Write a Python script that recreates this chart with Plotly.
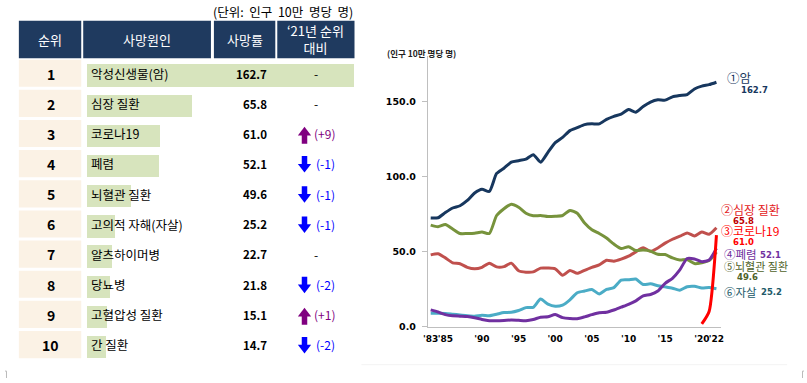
import plotly.graph_objects as go

W, H = 807, 383

# ---------------- table data ----------------
ranks = list(range(1, 11))
causes = ["악성신생물(암)", "심장 질환", "코로나19", "폐렴", "뇌혈관 질환",
          "고의적 자해(자살)", "알츠하이머병", "당뇨병", "고혈압성 질환", "간 질환"]
rates = [162.7, 65.8, 61.0, 52.1, 49.6, 25.2, 22.7, 21.8, 15.1, 14.7]
rank_change = [0, 0, 9, -1, -1, -1, 0, -2, 1, -2]
# bar lengths as drawn in the reference table (rate units)
bar_drawn = [162.7, 64.1, 44.2, 43.6, 26.6, 16.9, 15.1, 13.9, 12.1, 11.5]
header = ["순위", "사망원인", "사망률", "‘21년 순위<br>대비"]
table_unit = "(단위:  인구  10만  명당  명)"

# ---------------- line chart data ----------------
years = list(range(1983, 2023))
cancer = [72.3, 72.5, 76.0, 79.0, 80.5, 84.0, 89.0, 91.5, 90.0, 102.0,
          105.5, 109.5, 110.5, 111.5, 114.5, 109.5, 116.0, 122.5, 126.0, 130.5,
          132.5, 134.5, 135.0, 135.0, 138.0, 140.0, 141.5, 144.5, 142.8, 146.5,
          149.5, 151.0, 150.8, 153.0, 153.9, 154.5, 158.2, 160.1, 161.1, 162.7]
heart = [47.8, 48.5, 45.8, 42.5, 41.9, 39.5, 38.5, 39.5, 42.3, 39.8,
         40.0, 42.3, 37.2, 36.3, 36.5, 39.0, 39.0, 38.5, 34.2, 37.4,
         35.5, 37.5, 39.5, 41.1, 44.2, 43.6, 45.0, 46.9, 49.8, 52.5,
         50.2, 52.4, 55.6, 58.2, 60.2, 62.4, 60.4, 63.0, 61.5, 65.8]
cerebro = [67.6, 66.5, 68.0, 65.0, 62.0, 62.0, 62.2, 63.0, 62.0, 74.0,
           78.5, 81.5, 79.5, 75.5, 73.8, 74.0, 73.3, 73.5, 74.0, 77.4,
           75.5, 69.0, 64.5, 62.0, 59.0, 55.0, 52.0, 53.2, 50.7, 51.1,
           50.3, 48.2, 48.0, 45.8, 44.4, 44.7, 42.0, 42.6, 44.0, 49.6]
suicide = [9.0, 9.0, 8.8, 8.3, 7.8, 7.3, 7.0, 7.6, 7.3, 8.3,
           9.4, 9.6, 10.8, 12.7, 12.9, 18.4, 15.0, 13.6, 14.4, 17.9,
           22.6, 23.7, 24.7, 21.8, 24.8, 26.0, 31.0, 31.2, 31.7, 28.1,
           28.5, 27.3, 26.5, 25.6, 24.3, 26.6, 26.9, 25.7, 26.0, 25.2]
pneumonia = [11.2, 9.8, 8.0, 7.2, 7.0, 6.8, 6.0, 4.8, 4.0, 3.9,
             4.1, 4.4, 4.2, 4.0, 4.8, 6.3, 6.6, 8.1, 6.0, 5.4,
             5.3, 6.5, 8.0, 9.3, 9.6, 11.1, 13.0, 14.9, 17.2, 20.5,
             21.4, 23.7, 28.9, 32.2, 37.8, 45.4, 45.1, 43.3, 44.4, 52.1]
covid_years = [2020, 2021, 2022]
covid = [1.8, 10.1, 61.0]

xtick_vals = [1983, 1985, 1990, 1995, 2000, 2005, 2010, 2015, 2020, 2022]
xtick_text = ["'83", "'85", "'90", "'95", "'00", "'05", "'10", "'15", "'20", "'22"]
ytick_vals = [0, 50, 100, 150]
ytick_text = ["0.0", "50.0", "100.0", "150.0"]
y_title = "(인구 10만 명당 명)"

series = [
    ("heart", years, heart, "#C0504D"),
    ("cerebro", years, cerebro, "#77933C"),
    ("suicide", years, suicide, "#4BACC6"),
    ("pneumonia", years, pneumonia, "#7030A0"),
    ("cancer", years, cancer, "#17375E"),
    ("covid", covid_years, covid, "#FF0000"),
]

KR = "Noto Sans CJK KR"
DV = "DejaVu Sans"
UP_COL, DOWN_COL = "#800080", "#0000FF"


def px(x):
    return x / W


def py(y):
    return 1 - y / H


fig = go.Figure()

# line chart
for name, xs, ys, col in series:
    fig.add_trace(go.Scatter(x=xs, y=ys, mode="lines", name=name,
                             line=dict(color=col, width=3, shape="spline", smoothing=0.6),
                             xaxis="x", yaxis="y", hoverinfo="skip"))

# table bars
bar_scale = 269 / 162.7          # pixels per rate unit in the table
bar_x0 = 83                      # pixel where the bars start


def tx(pix):
    """pixel x -> table axis (x2) units"""
    return (pix - bar_x0) / bar_scale


fig.add_trace(go.Bar(x=bar_drawn, y=ranks, orientation="h", base=0, width=0.74, offset=-0.3,
                     marker=dict(color="#D7E4BD", line=dict(width=0)),
                     xaxis="x2", yaxis="y2", hoverinfo="skip"))

# rank-change arrows (head + shaft markers)
chg_r = [r for r, c in zip(ranks, rank_change) if c != 0]
chg_c = [c for c in rank_change if c != 0]
ax_pos = tx(302.5)
fig.add_trace(go.Scatter(
    x=[ax_pos] * len(chg_r),
    y=[r - 0.04 if c > 0 else r + 0.095 for r, c in zip(chg_r, chg_c)],
    mode="markers", xaxis="x2", yaxis="y2", hoverinfo="skip",
    marker=dict(symbol=["triangle-up" if c > 0 else "triangle-down" for c in chg_c],
                size=11.5, color=[UP_COL if c > 0 else DOWN_COL for c in chg_c],
                line=dict(width=0))))
fig.add_trace(go.Scatter(
    x=[ax_pos] * len(chg_r),
    y=[r + 0.145 if c > 0 else r - 0.075 for r, c in zip(chg_r, chg_c)],
    mode="markers", xaxis="x2", yaxis="y2", hoverinfo="skip",
    marker=dict(symbol="line-ns", size=8,
                line=dict(width=5.5, color=[UP_COL if c > 0 else DOWN_COL for c in chg_c]))))

shapes = []
annotations = []

# header cells
col_edges = [(14, 77), (79, 208), (211, 273), (275, 353)]
for (x0, x1), txt in zip(col_edges, header):
    shapes.append(dict(type="rect", xref="paper", yref="paper",
                       x0=px(x0), x1=px(x1), y0=py(59), y1=py(21),
                       fillcolor="#1F3A5F", line=dict(width=0), layer="below"))
    annotations.append(dict(text=txt, xref="paper", yref="paper",
                            x=px((x0 + x1) / 2), y=py(40), showarrow=False,
                            xanchor="center", yanchor="middle",
                            font=dict(family=KR, size=13, color="white")))

annotations.append(dict(text=table_unit, xref="paper", yref="paper",
                        x=px(354), y=py(12), showarrow=False, xanchor="right", yanchor="middle",
                        font=dict(family=KR, size=12.5, color="#000000")))

# rows
for r, cause, rate, ch in zip(ranks, causes, rates, rank_change):
    shapes.append(dict(type="rect", xref="paper", yref="y2",
                       x0=px(14), x1=px(77), y0=r - 0.46, y1=r + 0.44,
                       fillcolor="#FBF2E5", line=dict(width=0), layer="below"))
    annotations.append(dict(text=f"<b>{r}</b>", xref="paper", yref="y2", x=px(46), y=r,
                            showarrow=False, xanchor="center", yanchor="middle",
                            font=dict(family=KR, size=14, color="black")))
    annotations.append(dict(text=cause, xref="paper", yref="y2", x=px(85), y=r,
                            showarrow=False, xanchor="left", yanchor="middle",
                            font=dict(family=KR, size=12.5, color="black")))
    annotations.append(dict(text=f"<b>{rate:.1f}</b>", xref="paper", yref="y2", x=px(267), y=r,
                            showarrow=False, xanchor="right", yanchor="middle",
                            font=dict(family=KR, size=11.5, color="black")))
    if ch == 0:
        annotations.append(dict(text="-", xref="paper", yref="y2", x=px(314), y=r,
                                showarrow=False, xanchor="center", yanchor="middle",
                                font=dict(family=KR, size=12, color="black")))
    else:
        col = UP_COL if ch > 0 else DOWN_COL
        label = f"(+{ch})" if ch > 0 else f"({ch})"
        annotations.append(dict(text=label, xref="paper", yref="y2",
                                x=px(310.5 if ch > 0 else 312), y=r,
                                showarrow=False, xanchor="left", yanchor="middle",
                                font=dict(family=KR, size=12, color=col)))

# line chart labels
line_labels = [
    ("①암", 727, 79, "#17375E", 12.5),
    ("<b>162.7</b>", 741, 91, "#17375E", 8.5),
    ("②심장 질환", 721, 212, "#E31A1C", 12),
    ("<b>65.8</b>", 733, 223.5, "#C00000", 8.5),
    ("③코로나19", 721, 234, "#FF0000", 12),
    ("<b>61.0</b>", 733, 245, "#FF0000", 8.5),
    ("④폐렴", 724, 257.5, "#7030A0", 11.5),
    ("<b>52.1</b>", 761, 258, "#7030A0", 8.5),
    ("⑤뇌혈관 질환", 724, 269.5, "#4F6228", 11),
    ("<b>49.6</b>", 737, 280.5, "#4F6228", 8.5),
    ("⑥자살", 724, 296, "#215968", 11.5),
    ("<b>25.2</b>", 762, 296, "#215968", 8.5),
]
for txt, x, y, col, size in line_labels:
    fam = DV if txt.startswith("<b>") else KR
    annotations.append(dict(text=txt, xref="paper", yref="paper", x=px(x), y=py(y),
                            showarrow=False, xanchor="left", yanchor="middle",
                            font=dict(family=fam, size=size, color=col)))

annotations.append(dict(text=f"<b>{y_title}</b>", xref="paper", yref="paper",
                        x=px(384), y=py(54), showarrow=False, xanchor="left", yanchor="middle",
                        font=dict(family=KR, size=8.5, color="#222222")))

# faint slide lines / crop marks
shapes.append(dict(type="line", xref="paper", yref="paper", x0=px(360), x1=px(790),
                   y0=py(369.5), y1=py(369.5), line=dict(color="#F3F3F3", width=1)))
shapes.append(dict(type="path", xref="paper", yref="paper",
                   path=f"M {px(0)} {py(376)} L {px(1.5)} {py(376)} L {px(1.5)} {py(383)}",
                   line=dict(color="#BBBBBB", width=1)))
shapes.append(dict(type="path", xref="paper", yref="paper",
                   path=f"M {px(807)} {py(376)} L {px(805.5)} {py(376)} L {px(805.5)} {py(383)}",
                   line=dict(color="#BBBBBB", width=1)))

fig.update_layout(
    width=W, height=H, margin=dict(l=0, r=0, t=0, b=0),
    paper_bgcolor="white", plot_bgcolor="rgba(0,0,0,0)", showlegend=False,
    font=dict(family=KR, color="black"),
    bargap=0,
    xaxis=dict(domain=[px(427), px(723)], range=[1982.6, 2022.6], anchor="y",
               showline=True, linecolor="#BFBFBF", linewidth=1, ticks="",
               tickvals=xtick_vals, ticktext=xtick_text, tickangle=0,
               tickfont=dict(family=DV, size=9, color="black", weight="bold"),
               showgrid=False, zeroline=False, ticklabelstandoff=4),
    yaxis=dict(domain=[py(331), py(57)], range=[0, 180], anchor="x",
               showline=True, linecolor="#BFBFBF", linewidth=1,
               ticks="outside", ticklen=5, tickcolor="#BFBFBF",
               tickvals=ytick_vals, ticktext=ytick_text,
               tickfont=dict(family=DV, size=9.5, color="black", weight="bold"),
               showgrid=False, zeroline=False, ticklabelstandoff=4),
    xaxis2=dict(domain=[px(14), px(353)], range=[tx(14), tx(353)],
                anchor="y2", visible=False, fixedrange=True),
    yaxis2=dict(domain=[py(364.7), py(59.2)], range=[10.5, 0.5],
                anchor="x2", visible=False, fixedrange=True),
    shapes=shapes,
    annotations=annotations,
)

fig.write_html("out.html",
               config={"displayModeBar": False, "staticPlot": True},
               post_script="document.body.style.margin='0';document.body.style.overflow='hidden';")
